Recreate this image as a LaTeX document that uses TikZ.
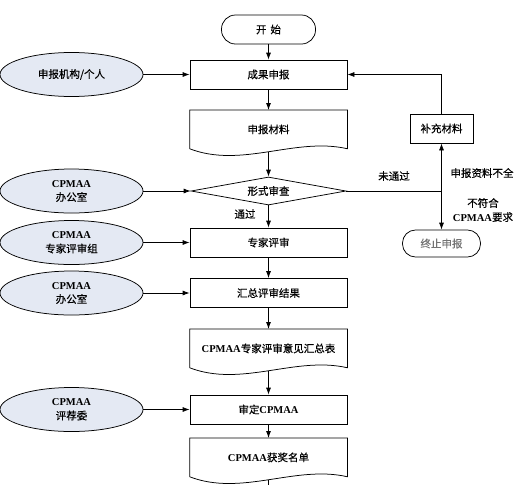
\documentclass[tikz,border=0pt]{standalone}
\usepackage{fontspec}
\setmainfont{Liberation Serif}
\newfontfamily\cjk[FakeBold=0.4]{Noto Sans CJK SC}
\usetikzlibrary{shapes.geometric,arrows.meta}
\newcommand{\cpmaa}{{\rmfamily\bfseries CPMAA}}
\definecolor{orgfill}{HTML}{E4E9F3}
\tikzset{
  box/.style={draw, rectangle, minimum width=157pt, minimum height=29pt, inner sep=0pt},
  doc/.style={rectangle, minimum width=157pt, minimum height=38pt, inner sep=0pt},
  term/.style={draw, rectangle, rounded corners=14pt, minimum width=94pt, minimum height=29pt, inner sep=0pt},
  check/.style={draw, diamond, aspect=5.5, minimum width=155pt, minimum height=28pt, inner sep=0pt},
  org/.style={draw, ellipse, fill=orgfill, minimum width=143pt, minimum height=44pt, inner sep=0pt, align=center},
  flow/.style={-{Latex[length=7pt,width=5pt]}},
  note/.style={align=center}
}

\begin{document}
\begin{tikzpicture}[x=1pt, y=-1pt, line width=0.75pt, font=\cjk\fontsize{10.5}{14}\selectfont]
\useasboundingbox (0,0) rectangle (518,485);
% \draw[step=50pt, gray, very thin] (0,0) grid (518,485);
% main column
\node[term] (start) at (268.5,29.5) {开\hspace{4pt}始};
\node[box] (submit) at (268.5,74.5) {成果申报};
\node[doc, anchor=north] (mat) at (268.5,110) {申报材料};
\node[check] (form) at (268.5,191) {形式审查};
\node[box] (review) at (268.5,242.5) {专家评审};
\node[box] (sum) at (268.5,293) {汇总评审结果};
\node[doc, anchor=north] (table) at (268.5,329) {\cpmaa 专家评审意见汇总表};
\node[box] (final) at (268.5,409.5) {审定\cpmaa};
\node[doc, anchor=north] (list) at (268.5,438) {\cpmaa 获奖名单};
\coordinate (bottom) at (268.5,485);
% end of main column
% drawing the documents
\foreach \d in {mat,table,list}
	\draw (\d.south west) -- (\d.north west) -- (\d.north east) -- (\d.south east)
		.. controls +(-52,-12) and +(52,20) .. (\d.south west) coordinate[pos=0.5] (\d-b);
% end of documents
% right branch
\node[box, minimum width=63pt] (extra) at (441.5,128.5) {补充材料};
\node[term, draw=black, minimum width=78pt, minimum height=27pt, rounded corners=13pt, text=black!55] (stop) at (441.5,243.5) {终止申报};
\coordinate (split) at (441.5,191);
\coordinate (back) at (441.5,74.5);
% five ellipses
\node[org] (applicant) at (71.5,74.5) {申报机构/个人};
\node[org] (office1) at (71.5,191) {\cpmaa\\办公室};
\node[org] (experts) at (71.5,242.5) {\cpmaa\\专家评审组};
\node[org] (office2) at (71.5,293) {\cpmaa\\办公室};
\node[org] (board) at (71.5,409.5) {\cpmaa\\评荐委};
% arrows
\draw[flow] (start) -- (submit);
\draw[flow] (submit) -- (mat);
\draw[flow] (mat-b) -- (form);
\draw[flow] (form) -- (review);
\draw[flow] (review) -- (sum);
\draw[flow] (sum) -- (table);
\draw[flow] (table-b) -- (final);
\draw[flow] (final) -- (list);
\draw (list-b) -- (bottom);
\draw (form) -- (split);
\draw[flow] (split) -- (extra);
\draw[flow] (split) -- (stop);
\draw[flow] (extra) -- (back) -- (submit);
\draw[flow] (applicant) -- (submit);
\draw[flow] (office1) -- (form);
\draw[flow] (experts) -- (review);
\draw[flow] (office2) -- (sum);
\draw[flow] (board) -- (final);
% labels
\node (no) at (394,176) {未通过};
\node (yes) at (245,214) {通过};
\node (lack) at (482,173) {申报资料不全};
\node[note] (unfit) at (483,210) {不符合\\\cpmaa 要求};
\end{tikzpicture}
\end{document}
